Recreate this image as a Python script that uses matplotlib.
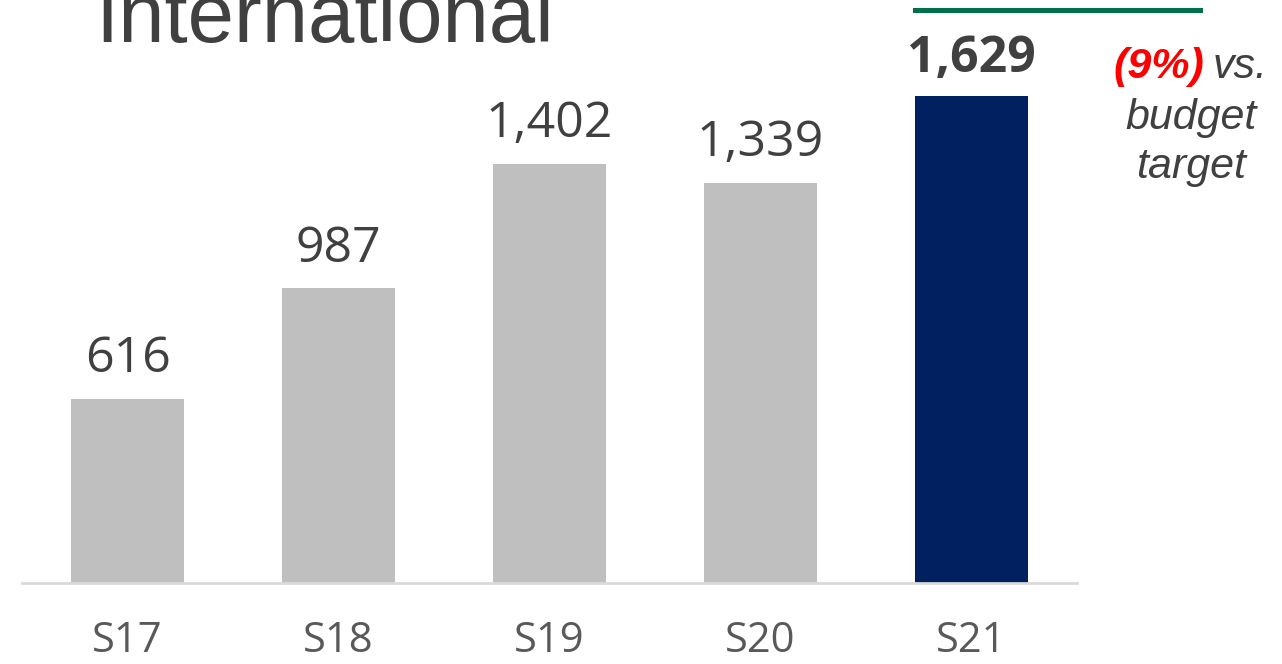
import matplotlib.pyplot as plt

# Данні графіку
seasons = ['S17', 'S18', 'S19', 'S20', 'S21']
revenue = [616, 987, 1402, 1339, 1629]
bar_colors = ['#BFBFBF', '#BFBFBF', '#BFBFBF', '#BFBFBF', '#002060']

fig = plt.figure(figsize=(12.82, 6.64), dpi=100)
ax = fig.add_axes([22 / 1282, 81 / 664, 1055 / 1282, 583 / 664])

bars = ax.bar(range(len(seasons)), revenue, width=0.54, color=bar_colors)

ax.set_xlim(-0.5, len(seasons) - 0.5)
ax.set_ylim(0, 1950)

# Підписи значень над стовпцями
for i, v in enumerate(revenue):
    last = i == len(revenue) - 1
    ax.annotate(f'{v:,}', (i, v), xytext=(0, 17 if last else 19),
                textcoords='offset points', ha='center', va='baseline',
                fontsize=36, family='Open Sans', color='#404040',
                fontweight='bold' if last else 'normal')

ax.set_xticks(range(len(seasons)))
ax.set_xticklabels(seasons, family='Open Sans', fontsize=30, color='#595959')
ax.tick_params(axis='x', length=0, pad=27)
ax.set_yticks([])
for side in ['left', 'right', 'top']:
    ax.spines[side].set_visible(False)
ax.spines['bottom'].set_color('#D9D9D9')
ax.spines['bottom'].set_linewidth(2)

# Заголовок (обрізаний зверху, як в оригіналі)
fig.text(95 / 1282, 1 - 42 / 664, 'International', family='Liberation Sans',
         fontsize=60, color='#404040', ha='left', va='baseline')

# Зелена лінія
fig.add_artist(plt.Line2D([915 / 1282, 1200 / 1282], [1 - 10 / 664, 1 - 10 / 664],
                          color='#00704A', linewidth=3.6))

# Примітка
fig.text(1113 / 1282, 1 - 78 / 664, '(9%)', family='Liberation Sans', fontsize=31,
         style='italic', fontweight='bold', color='#FF0000', ha='left', va='baseline')
fig.text(1268 / 1282, 1 - 78 / 664, 'vs.', family='Liberation Sans', fontsize=31,
         style='italic', color='#404040', ha='right', va='baseline')
fig.text(1191 / 1282, 1 - 129 / 664, 'budget', family='Liberation Sans', fontsize=31,
         style='italic', color='#404040', ha='center', va='baseline')
fig.text(1191 / 1282, 1 - 178 / 664, 'target', family='Liberation Sans', fontsize=31,
         style='italic', color='#404040', ha='center', va='baseline')

fig.savefig('out.png', dpi=100)
